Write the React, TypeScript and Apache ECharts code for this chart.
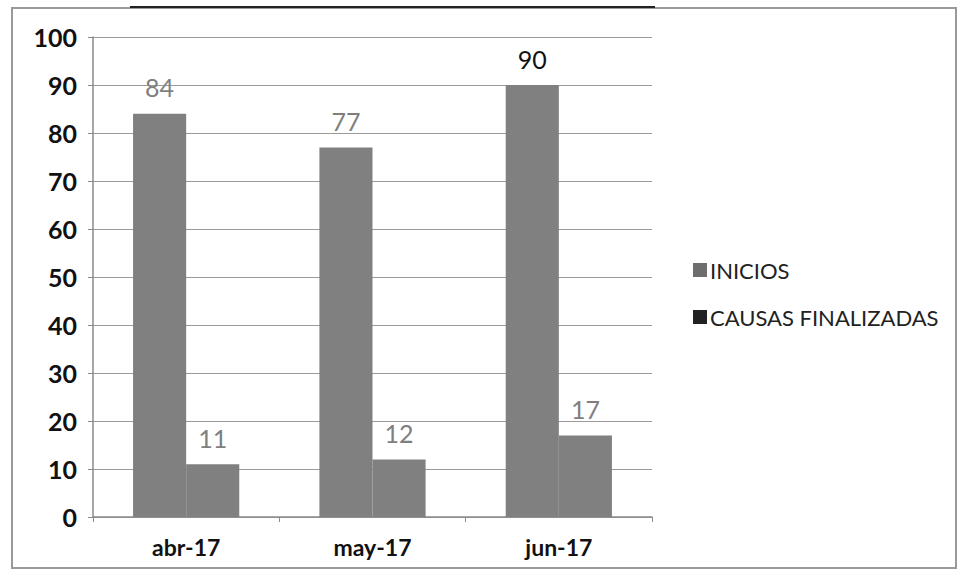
import React, { useEffect, useRef } from "react";
import * as echarts from "echarts";

const categories = ["abr-17", "may-17", "jun-17"];
const inicios = [84, 77, 90];
const causasFinalizadas = [11, 12, 17];
const seriesNames = ["INICIOS", "CAUSAS FINALIZADAS"];
const iniciosLabelColors = ["#7f7f7f", "#7f7f7f", "#111111"];

export default function App() {
  const ref = useRef<HTMLDivElement>(null);
  useEffect(() => {
    const chart = echarts.init(ref.current!, undefined, { renderer: "svg" });
    const font = "Lato, 'Open Sans', sans-serif";
    chart.setOption({
      animation: false,
      backgroundColor: "#ffffff",
      textStyle: { fontFamily: font },
      graphic: [
        {
          type: "rect",
          shape: { x: 12, y: 8, width: 944, height: 560 },
          style: { fill: "none", stroke: "#9a9a9a", lineWidth: 2 },
        },
        {
          type: "line",
          shape: { x1: 130, y1: 7, x2: 655, y2: 7 },
          style: { stroke: "#222", lineWidth: 2 },
        },
      ],
      legend: {
        orient: "vertical",
        left: 688,
        top: 254,
        itemGap: 25,
        itemWidth: 14,
        itemHeight: 14,
        icon: "rect",
        textStyle: { fontSize: 22, color: "#222", fontFamily: font, padding: [0, 0, 0, -2] },
        data: [
          { name: seriesNames[0], itemStyle: { color: "#6e6e6e" } },
          { name: seriesNames[1], itemStyle: { color: "#222222" } },
        ],
      },
      grid: { left: 93, right: 310, top: 37, bottom: 61 },
      xAxis: {
        type: "category",
        data: categories,
        axisLine: { lineStyle: { color: "#8a8a8a", width: 1.5 } },
        axisTick: { show: true, length: 5, lineStyle: { color: "#8a8a8a" } },
        axisLabel: { fontSize: 23, fontWeight: "bold", color: "#111", margin: 18, fontFamily: font },
      },
      yAxis: {
        type: "value",
        min: 0,
        max: 100,
        interval: 10,
        axisLine: { show: true, lineStyle: { color: "#8a8a8a", width: 1.5 } },
        axisTick: { show: true, length: 5, lineStyle: { color: "#8a8a8a" } },
        splitLine: { lineStyle: { color: "#9a9a9a", width: 1.2 } },
        axisLabel: { fontSize: 25, fontWeight: "bold", color: "#111", margin: 16, fontFamily: font },
      },
      series: [
        {
          name: seriesNames[0],
          type: "bar",
          barGap: "0%",
          barCategoryGap: "43%",
          itemStyle: { color: "#808080" },
          label: { show: true, position: "top", distance: 14, fontSize: 25, color: "#7f7f7f", fontFamily: font },
          data: inicios.map((v, i) => ({ value: v, label: { color: iniciosLabelColors[i] } })),
        },
        {
          name: seriesNames[1],
          type: "bar",
          itemStyle: { color: "#808080" },
          label: { show: true, position: "top", distance: 14, fontSize: 25, color: "#7f7f7f", fontFamily: font },
          data: causasFinalizadas,
        },
      ],
    });
    return () => chart.dispose();
  }, []);
  return (
    <div
      ref={ref}
      style={{ position: "fixed", left: 0, top: 0, width: 962, height: 578 }}
    />
  );
}
